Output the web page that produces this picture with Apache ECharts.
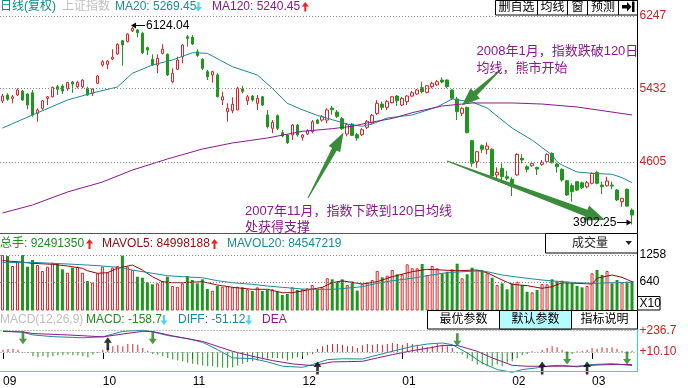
<!DOCTYPE html>
<html><head><meta charset="utf-8">
<script src="https://cdn.jsdelivr.net/npm/echarts@6.0.0/dist/echarts.min.js"></script>
<style>html,body{margin:0;padding:0;background:#fff;}#chart{width:688px;height:388px;}</style>
</head><body><div id="chart"></div>
<script>
// ---------- data ----------
const monthLabels = ['09','10','11','12','01','02','03'];
const monthDays = [20,18,22,20,22,16,9];
// [open, close, low, high]
const candles = [
[5291,5347,5269,5370],[5359,5310,5294,5378],[5321,5339,5265,5359],[5359,5415,5347,5434],[5403,5302,5294,5415],
[5370,5246,5198,5378],[5384,5134,5115,5415],[5153,5190,5058,5209],[5209,5294,5190,5302],[5321,5339,5246,5347],
[5339,5445,5332,5452],[5452,5423,5359,5471],[5460,5403,5370,5479],[5429,5497,5407,5508],[5505,5482,5384,5516],
[5452,5501,5434,5519],[5452,5527,5434,5535],[5434,5359,5347,5452],[5378,5426,5347,5434],[5490,5572,5482,5584],
[5696,5733,5677,5752],[5704,5741,5648,5752],[5763,5783,5752,5873],[5820,5929,5812,5940],[5969,5921,5688,5977],
[5958,6044,5951,6052],[6080,6109,6067,6124.04],[6090,6059,6007,6101],[6052,5834,5820,6070],[5891,5865,5808,5902],
[5760,5696,5685,5816],[5696,5771,5603,5816],[5827,5873,5816,5929],[5816,5584,5572,5827],[5508,5603,5490,5659],
[5648,5752,5640,5789],[5789,5921,5715,5929],[6014,5996,5902,6033],[6007,5932,5921,6033],[5846,5801,5789,5873],
[5760,5659,5640,5771],[5621,5564,5527,5640],[5584,5621,5497,5632],[5584,5339,5332,5603],[5302,5339,5246,5396],
[5171,5209,5058,5265],[5182,5254,5153,5332],[5190,5434,5190,5452],[5426,5400,5378,5463],[5294,5339,5246,5359],
[5347,5302,5283,5359],[5265,5321,5190,5359],[5339,5246,5235,5347],[5134,5002,4984,5190],[4984,5052,4928,5077],
[5126,4984,4965,5141],[4935,4897,4883,4965],[4909,4822,4808,4920],[4909,5021,4852,5032],[5021,4909,4890,5032],
[4883,4909,4845,4920],[4920,4957,4909,4973],[4946,5058,4928,5077],[5077,5040,5032,5089],[5077,5115,5058,5134],
[5077,5190,5040,5209],[5212,5193,5137,5235],[5167,5119,5100,5190],[5092,4980,4965,5111],[4920,5025,4894,5044],
[5032,4905,4897,5044],[4912,4875,4845,4931],[4912,4968,4897,4987],[4995,5063,4976,5077],[5044,5130,5032,5145],
[5153,5265,5134,5302],[5257,5220,5190,5283],[5220,5283,5190,5302],[5272,5339,5265,5347],[5347,5294,5235,5359],
[5246,5321,5235,5339],[5283,5347,5246,5359],[5347,5384,5339,5403],[5370,5415,5359,5426],[5441,5396,5378,5508],
[5389,5463,5378,5471],[5452,5490,5434,5508],[5471,5508,5460,5527],[5527,5505,5490,5558],[5527,5452,5434,5535],
[5415,5321,5302,5423],[5314,5171,5077,5339],[5153,5209,5122,5220],[5220,4935,4928,5227],[4845,4591,4552,4852],
[4608,4721,4541,4732],[4788,4748,4703,4804],[4748,4785,4692,4827],[4748,4448,4440,4759],[4459,4489,4422,4545],
[4534,4440,4384,4590],[4440,4422,4403,4507],[4410,4335,4223,4433],[4459,4692,4451,4703],[4647,4628,4590,4692],
[4552,4523,4489,4571],[4563,4590,4552,4608],[4545,4526,4459,4552],[4579,4602,4563,4628],[4608,4692,4590,4703],
[4703,4597,4590,4714],[4583,4552,4485,4597],[4523,4403,4384,4534],[4395,4234,4223,4403],[4339,4271,4159,4366],
[4384,4290,4279,4391],[4372,4316,4301,4384],[4327,4372,4309,4391],[4366,4478,4354,4489],[4489,4366,4354,4507],
[4346,4327,4245,4384],[4338,4391,4327,4440],[4346,4335,4298,4384],[4290,4178,4166,4301],[4159,4197,4102,4204],
[4298,4110,4102,4309],[4065,4009,3902.25,4084]
];
const volumes = [
1254,1232,1006,1103,1254,990,1141,1028,893,990,
1081,1051,931,854,967,990,854,667,628,841,
990,863,967,1006,1239,990,915,764,741,637,
592,614,667,764,554,538,614,780,689,614,
705,486,448,554,538,554,524,538,524,479,
441,524,441,463,479,425,350,373,524,463,
479,502,576,479,524,728,705,651,705,576,
655,448,599,628,689,893,750,787,915,818,
818,1044,954,954,1051,802,1006,954,841,877,
931,1058,728,818,967,915,915,841,741,576,
614,479,614,651,576,425,411,463,599,592,
705,651,674,651,614,554,524,554,841,915,
802,893,614,689,628,651,667
];
// moving averages read as [day index, value]
const ma20 = [[0,4987],[6,5134],[13,5302],[18,5381],[23,5449],[26,5603],[30,5696],[34,5752],[38,5834],[41,5827],[46,5677],[51,5584],[54,5434],[57,5265],[60,5193],[63,5130],[66,5081],[69,5032],[72,5007],[74,5032],[77,5100],[82,5134],[87,5224],[90,5314],[94,5280],[97,5212],[100,5077],[102,4987],[106,4852],[110,4684],[111,4608],[112,4571],[115,4493],[118,4478],[122,4467],[124,4430],[126,4373]];
const ma120 = [[0,4032],[6,4122],[13,4268],[20,4380],[26,4515],[33,4639],[40,4751],[46,4819],[53,4875],[60,4950],[66,4980],[70,5007],[73,5044],[78,5095],[82,5160],[88,5235],[94,5269],[102,5269],[108,5257],[115,5224],[122,5167],[126,5134]];
const mavol5 = [[0,1126],[3,1103],[6,1066],[10,1044],[13,1006],[16,954],[17,899],[19,841],[21,854],[23,954],[26,1028],[28,915],[30,764],[32,651],[34,628],[36,628],[40,651],[43,576],[46,524],[50,479],[53,479],[56,402],[58,402],[61,463],[64,524],[66,628],[68,670],[72,599],[75,651],[78,764],[82,877],[85,931],[88,915],[91,899],[95,915],[97,854],[100,689],[102,592],[105,561],[108,502],[110,538],[112,628],[115,614],[118,599],[119,728],[122,802],[124,750],[126,651]];
const mavol20 = [[0,1081],[6,1089],[10,1066],[13,1051],[17,1028],[20,1006],[23,976],[26,915],[30,841],[33,787],[36,764],[40,741],[43,674],[46,628],[50,592],[53,554],[56,524],[60,486],[63,479],[66,479],[68,495],[72,538],[75,614],[78,674],[82,728],[85,787],[88,841],[91,870],[95,893],[97,877],[100,802],[104,741],[108,689],[112,651],[115,628],[118,614],[122,628],[126,637]];
const macdHist = [
24,31,31,24,-5,-10,-45,-56,-45,-56,
-45,-35,-35,-28,-35,-35,-45,-56,-28,-14,
24,42,60,70,60,84,84,77,42,14,
-21,-28,-45,-63,-80,-91,-98,-115,-126,-133,
-143,-150,-150,-161,-168,-168,-161,-143,-126,-105,
-98,-91,-80,-73,-63,-63,-70,-91,-70,-56,
-45,-35,-21,31,60,77,84,84,77,60,
60,42,70,84,77,84,77,84,95,84,
77,95,84,77,60,49,60,84,77,60,
42,-14,-28,-70,-98,-133,-133,-150,-150,-133,
-150,-115,-98,-63,-35,-21,7,3,24,42,
60,49,24,-28,-21,7,14,24,42,35,
49,42,49,35,14,-21,14
];
const diff = [[0,233],[4,218],[6,190],[10,172],[16,160],[20,170],[22,200],[24,228],[28,240],[30,222],[33,184],[37,150],[40,112],[43,34],[46,-53],[50,-60],[53,-95],[56,-141],[60,-152],[62,-123],[65,-71],[68,-62],[72,-64],[74,-36],[78,17],[82,69],[85,94],[88,105],[90,87],[93,0],[96,-106],[99,-176],[102,-205],[104,-176],[107,-158],[110,-134],[112,-131],[115,-148],[118,-123],[122,-114],[126,-134]];
const dea = [[0,226],[4,222],[6,205],[13,190],[20,170],[24,200],[28,228],[30,226],[34,180],[40,121],[46,17],[50,-36],[54,-81],[58,-116],[62,-134],[66,-95],[69,-92],[72,-89],[75,-53],[78,-18],[82,24],[86,58],[88,79],[91,79],[95,17],[98,-53],[102,-131],[105,-141],[108,-141],[112,-141],[115,-141],[119,-128],[123,-121],[126,-123]];
const crossDown = [[4,160],[30,160],[91,139],[113,-55],[125,-55]];
const crossUp = [[21,97],[63,-160],[108,-160],[117,-160]];
const priceTicks = [6247, 5432, 4605];
const volTicks = [1258, 640];
const macdTicks = [236.7, 10.10];
const macdTickLabels = ['+236.7', '+10.10'];
const highLabel = '6124.04', lowLabel = '3902.25';

// ---------- build ----------
const FONT = "'Liberation Sans','Noto Sans CJK SC',sans-serif";
const RED = '#d8262c', GREEN = '#1f971f', TEAL = '#1d8a97', PURPLE = '#8a1a8a', CYAN = '#25dcea', DRED = '#8e0a0a';
const GL = -0.5;

const cats = []; const monthStart = new Set();
monthLabels.forEach((m, k) => { monthStart.add(cats.length); for (let d = 0; d < monthDays[k]; d++) cats.push(m + '/' + (d + 1)); });

const mk = (data, color) => ({
  symbol: ['none','none'], silent: true, animation: false,
  lineStyle: {color: '#8a8a8a', type: [1,2], width: 1},
  label: {show: true, position: 'end', formatter: '{b}', color, fontSize: 12, fontFamily: FONT, distance: 5},
  emphasis: {disabled: true}, data
});
const lineS = (data, xi, yi, color, extra) => Object.assign({type: 'line', xAxisIndex: xi, yAxisIndex: yi, data, symbol: 'none', showSymbol: false, silent: true, lineStyle: {color, width: 1}, z: 4}, extra || {});

const xAx = g => ({type: 'category', gridIndex: g, data: cats, boundaryGap: true, axisLine: {show: false}, axisTick: {show: false}, axisLabel: {show: false}, splitLine: {show: false}});
const xAxis = [xAx(0), xAx(1), xAx(2)];
xAxis[2].axisTick = {show: true, alignWithLabel: true, interval: (i) => monthStart.has(i), length: 6, lineStyle: {color: '#000'}};
xAxis[2].axisLabel = {show: true, interval: (i) => monthStart.has(i), formatter: v => v.split('/')[0], align: 'left', margin: 5, color: '#000', fontSize: 12, fontFamily: FONT};

const DOWN_PATH = 'path://M3,0 H6 V8 H9 L4.5,14 L0,8 H3 Z';
const UP_PATH = 'path://M4.5,0 L9,6 H6 V14 H3 V6 H0 Z';

// ---------- decorations ----------
const G = [];
const T = (x, y, text, fill, size, align, z) => G.push({type: 'text', z: z || 80, x, y, style: {text, fill, font: (size || 12) + 'px ' + FONT, align: align || 'left', verticalAlign: 'middle'}});
const L = (x1, y1, x2, y2, stroke, z) => G.push({type: 'line', z: z || 70, shape: {x1, y1, x2, y2}, style: {stroke, lineWidth: 1}});
const R = (x, y, w, h, fill, stroke, z) => G.push({type: 'rect', z: z || 75, shape: {x, y, width: w, height: h}, style: {fill, stroke: stroke || null, lineWidth: 1}});
const P = (points, fill, z) => G.push({type: 'polygon', z: z || 65, shape: {points}, style: {fill}});
function smallArrow(cx, y0, y1, up, color) {
  const h = 4.5;
  if (up) P([[cx,y0],[cx+3.5,y0+h],[cx+1,y0+h],[cx+1,y1],[cx-1,y1],[cx-1,y0+h],[cx-3.5,y0+h]], color, 81);
  else P([[cx,y1],[cx+3.5,y1-h],[cx+1,y1-h],[cx+1,y0],[cx-1,y0],[cx-1,y1-h],[cx-3.5,y1-h]], color, 81);
}
function bigArrow(x0, y0, x1, y1, tw, nw, hw, hl) {
  const dx = x1 - x0, dy = y1 - y0, len = Math.hypot(dx, dy), ux = dx / len, uy = dy / len, px = -uy, py = ux;
  const bx = x1 - ux * hl, by = y1 - uy * hl;
  P([[x0+px*tw/2, y0+py*tw/2],[bx+px*nw/2, by+py*nw/2],[bx+px*hw/2, by+py*hw/2],[x1,y1],[bx-px*hw/2, by-py*hw/2],[bx-px*nw/2, by-py*nw/2],[x0-px*tw/2, y0-py*tw/2]], '#3a8c3a', 66);
}

// frames
L(637.5, 0, 637.5, 310, '#000');
L(0, 233.5, 637.5, 233.5, '#555');
R(495.5, 0.5, 142, 14.5, '#fff', '#000');
[537.5, 567.5, 587.5, 618.5].forEach(x => L(x, 0.5, x, 15, '#000', 76));
T(516.5, 8, '删自选', '#000', 12, 'center');
T(552.5, 8, '均线', '#000', 12, 'center');
T(577.5, 8, '窗', '#000', 12, 'center');
T(603, 8, '预测', '#000', 12, 'center');
P([[622,5],[627,5],[627,2],[631.5,6.8],[627,11.5],[627,8.5],[622,8.5]], '#000', 81);
R(632, 1.5, 2.5, 10.5, '#000', null, 81);

R(545.5, 233.5, 92, 19.5, '#fff', '#000');
T(590, 244, '成交量', '#222', 12, 'center');
P([[625.5,241],[632,241],[628.75,245]], '#222', 81);
R(637.5, 296.5, 22.5, 13.5, '#fff', '#000');
T(639.5, 303.5, 'X10', '#000', 12);

R(427.5, 310.5, 210, 18.5, '#fff', '#000');
R(499.5, 310.5, 72, 18.5, '#b4fcff', '#000', 76);
T(463.5, 320, '最优参数', '#000', 12, 'center');
T(535.5, 320, '默认参数', '#000', 12, 'center');
T(604.5, 320, '指标说明', '#000', 12, 'center');
L(637.5, 329, 637.5, 372, CYAN);
L(0, 371.5, 637.5, 371.5, CYAN);

// headers
T(0, 7, '日线(复权)', '#0d8a8a');
T(62, 7, '上证指数', '#c0c0c0');
T(115, 7, 'MA20: 5269.45', TEAL);
smallArrow(198.5, 2, 11.5, false, '#45d6f2');
T(212, 7, 'MA120: 5240.45', PURPLE);
smallArrow(305.3, 2, 11.5, true, '#f02020');

T(0, 244, '总手: 92491350', '#1e8f1e');
smallArrow(89.5, 239, 249, true, '#f02020');
T(102, 244, 'MAVOL5: 84998188', DRED);
smallArrow(214.5, 239, 249, true, '#f02020');
T(227, 244, 'MAVOL20: 84547219', TEAL);

T(0, 320, 'MACD(12,26,9)', '#c0c0c0');
T(86, 320, 'MACD: -158.7', '#1e8f1e');
smallArrow(164, 315, 325, false, '#45d6f2');
T(178, 320, 'DIFF: -51.12', TEAL);
smallArrow(248.7, 315, 325, false, '#45d6f2');
T(262, 320, 'DEA', PURPLE);

// annotations
bigArrow(447, 161, 605, 220, 1, 7, 16, 20);
bigArrow(308, 198, 343.5, 132.5, 1, 5.5, 13, 19);
bigArrow(501, 69.5, 462, 105.5, 1, 5.5, 14, 18);
T(476.5, 51.5, '2008年1月，指数跌破120日', PURPLE, 13, 'left', 82);
T(476.5, 68, '均线，熊市开始', PURPLE, 13, 'left', 82);
T(245, 211.5, '2007年11月，指数下跌到120日均线', PURPLE, 13, 'left', 82);
T(245, 227.5, '处获得支撑', PURPLE, 13, 'left', 82);
L(134, 25.5, 145, 25.5, '#000', 82);
P([[131,25.5],[136,22.5],[136,28.5]], '#000', 82);
T(146, 26, highLabel, '#000', 12, 'left', 82);
T(573, 222.5, lowLabel, '#000', 12, 'left', 83);
L(617, 222.5, 628, 222.5, '#000', 82);
P([[631.5,222.5],[626.5,219.5],[626.5,225.5]], '#000', 82);

const option = {
  animation: false,
  backgroundColor: '#fff',
  textStyle: {fontFamily: FONT},
  grid: [
    {left: GL, top: 16, width: 635, height: 217},
    {left: GL, top: 234, width: 635, height: 76.5},
    {left: GL, top: 310, width: 635, height: 61.5}
  ],
  xAxis,
  yAxis: [
    {gridIndex: 0, type: 'value', min: 3807, max: 6247, show: false},
    {gridIndex: 1, type: 'value', min: 0, max: 1729, show: false},
    {gridIndex: 2, type: 'value', min: -191.3, max: 453.8, show: false},
    {gridIndex: 2, type: 'value', min: -201.4, max: 443.7, show: false}
  ],
  series: [
    {type: 'candlestick', xAxisIndex: 0, yAxisIndex: 0, data: candles, barWidth: 3, silent: true, z: 3,
     itemStyle: {color: '#fff', color0: GREEN, borderColor: RED, borderColor0: GREEN, borderWidth: 1},
     markLine: mk(priceTicks.map(v => ({yAxis: v, name: String(v)})), '#cc1f1f')},
    lineS(ma20, 0, 0, TEAL),
    lineS(ma120, 0, 0, PURPLE),
    {type: 'bar', xAxisIndex: 1, yAxisIndex: 1, barWidth: 3, silent: true,
     data: volumes.map((v, i) => ({value: v, itemStyle: candles[i][1] >= candles[i][0] ? {color: '#fff', borderColor: RED, borderWidth: 1} : {color: GREEN}})),
     markLine: mk(volTicks.map(v => ({yAxis: v, name: String(v)})), '#000')},
    lineS(mavol5, 1, 1, DRED),
    lineS(mavol20, 1, 1, TEAL),
    {type: 'bar', xAxisIndex: 2, yAxisIndex: 3, barWidth: 1, silent: true,
     data: macdHist.map(v => ({value: v, itemStyle: {color: v >= 0 ? RED : GREEN}}))},
    lineS(diff, 2, 2, TEAL, {clip: false, markLine: mk(macdTicks.map((v, k) => ({yAxis: v, name: macdTickLabels[k]})), '#cc1f1f')}),
    lineS(dea, 2, 2, PURPLE, {clip: false}),
    {type: 'scatter', xAxisIndex: 2, yAxisIndex: 2, data: crossDown, symbol: DOWN_PATH, symbolSize: [8, 13], itemStyle: {color: '#1f7d1f'}, clip: false, silent: true, z: 10},
    {type: 'scatter', xAxisIndex: 2, yAxisIndex: 2, data: crossUp, symbol: UP_PATH, symbolSize: [8, 13], itemStyle: {color: '#000'}, clip: false, silent: true, z: 10}
  ],
  graphic: {elements: G}
};
const chart = echarts.init(document.getElementById('chart'), null, {renderer: 'canvas'});
chart.setOption(option);
</script>
</body></html>
